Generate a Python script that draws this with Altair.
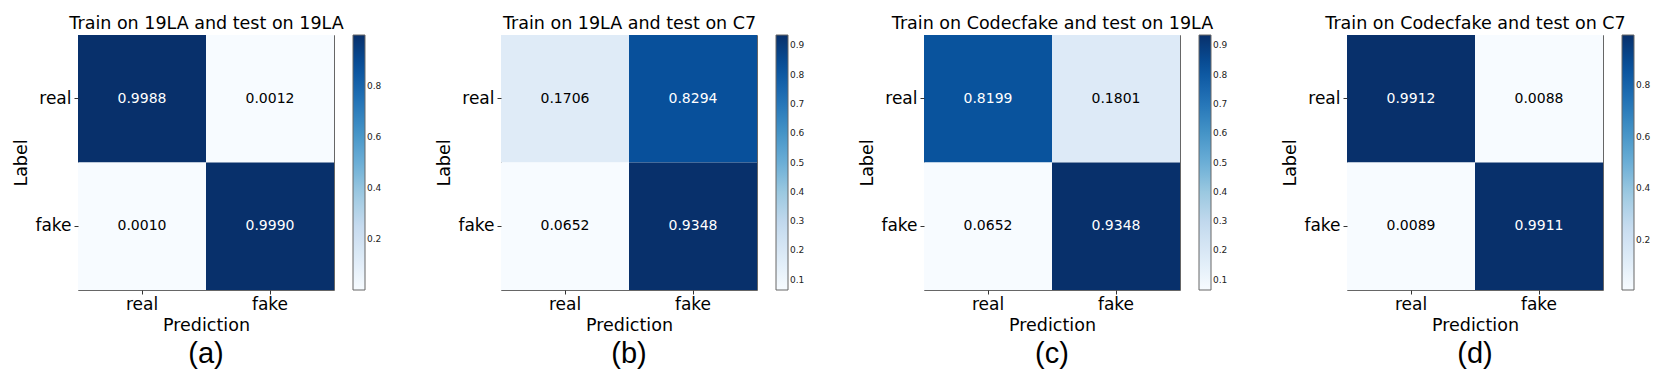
import altair as alt
import pandas as pd

titles = [
    "Train on 19LA and test on 19LA",
    "Train on 19LA and test on C7",
    "Train on Codecfake and test on 19LA",
    "Train on Codecfake and test on C7",
]
captions = ["(a)", "(b)", "(c)", "(d)"]
classes = ["real", "fake"]
# row-major: label real -> (pred real, pred fake), label fake -> (pred real, pred fake)
labels_col = ["real", "real", "fake", "fake"]
preds_col = ["real", "fake", "real", "fake"]
vals_a = [0.9988, 0.0012, 0.0010, 0.9990]
vals_b = [0.1706, 0.8294, 0.0652, 0.9348]
vals_c = [0.8199, 0.1801, 0.0652, 0.9348]
vals_d = [0.9912, 0.0088, 0.0089, 0.9911]
all_vals = [vals_a, vals_b, vals_c, vals_d]
ticks_a = [0.2, 0.4, 0.6, 0.8]
ticks_b = [0.1, 0.2, 0.3, 0.4, 0.5, 0.6, 0.7, 0.8, 0.9]
ticks_c = [0.1, 0.2, 0.3, 0.4, 0.5, 0.6, 0.7, 0.8, 0.9]
ticks_d = [0.2, 0.4, 0.6, 0.8]
all_ticks = [ticks_a, ticks_b, ticks_c, ticks_d]
blues = ["#f7fbff", "#deebf7", "#c6dbef", "#9ecae1", "#6baed6",
         "#4292c6", "#2171b5", "#08519c", "#08306b"]

FONT = "DejaVu Sans"


def panel(title, caption, vals, ticks):
    df = pd.DataFrame({"label": labels_col, "pred": preds_col, "value": vals})
    lo, hi = min(vals), max(vals)
    base = alt.Chart(df)
    rect = base.mark_rect().encode(
        x=alt.X("pred:N", sort=classes,
                axis=alt.Axis(title="Prediction", labelAngle=0, orient="bottom")),
        y=alt.Y("label:N", sort=classes, title="Label"),
        color=alt.Color("value:Q",
                        scale=alt.Scale(domain=[lo, hi], range=blues, interpolate="rgb"),
                        legend=alt.Legend(values=ticks, format=".1f", title=None)),
    )
    text = base.mark_text(fontSize=14, font=FONT).encode(
        x=alt.X("pred:N", sort=classes,
                axis=alt.Axis(orient="top", title=title, labels=False, ticks=False,
                              domain=False, titlePadding=3)),
        y=alt.Y("label:N", sort=classes, title="Label"),
        text=alt.Text("value:Q", format=".4f"),
        color=alt.condition(alt.datum.value > (lo + hi) / 2,
                            alt.value("white"), alt.value("black")),
    )
    return (
        alt.layer(rect, text)
        .resolve_axis(x="independent")
        .properties(
            width=256, height=255,
            title=alt.Title(caption, orient="bottom", anchor="middle", fontSize=29,
                            font="Liberation Sans", fontWeight="normal", offset=6,
                            color="black"),
        )
    )


panels = [panel(t, c, v, k) for t, c, v, k in zip(titles, captions, all_vals, all_ticks)]

chart = (
    alt.hconcat(*panels, spacing=167, bounds="flush")
    .properties(padding={"left": 4, "top": 5, "right": 0, "bottom": 5})
    .resolve_scale(color="independent")
    .resolve_legend(color="independent")
    .configure_view(stroke="#666666", strokeWidth=1)
    .configure_axis(
        labelFont=FONT, titleFont=FONT, labelFontSize=17, titleFontSize=17.5,
        titleFontWeight="normal", labelColor="black", titleColor="black",
        tickColor="#333333", tickSize=4, labelPadding=2, titlePadding=4,
        domain=False, grid=False,
    )
    .configure_axisY(labelPadding=3)
    .configure_legend(
        gradientLength=255, gradientThickness=12, labelFontSize=9, labelFont=FONT,
        labelColor="#222222", labelOffset=4, offset=19, padding=0,
        gradientStrokeColor="#666666", gradientStrokeWidth=1,
    )
)

chart.save("out.html", embed_options={"renderer": "svg", "actions": False})
